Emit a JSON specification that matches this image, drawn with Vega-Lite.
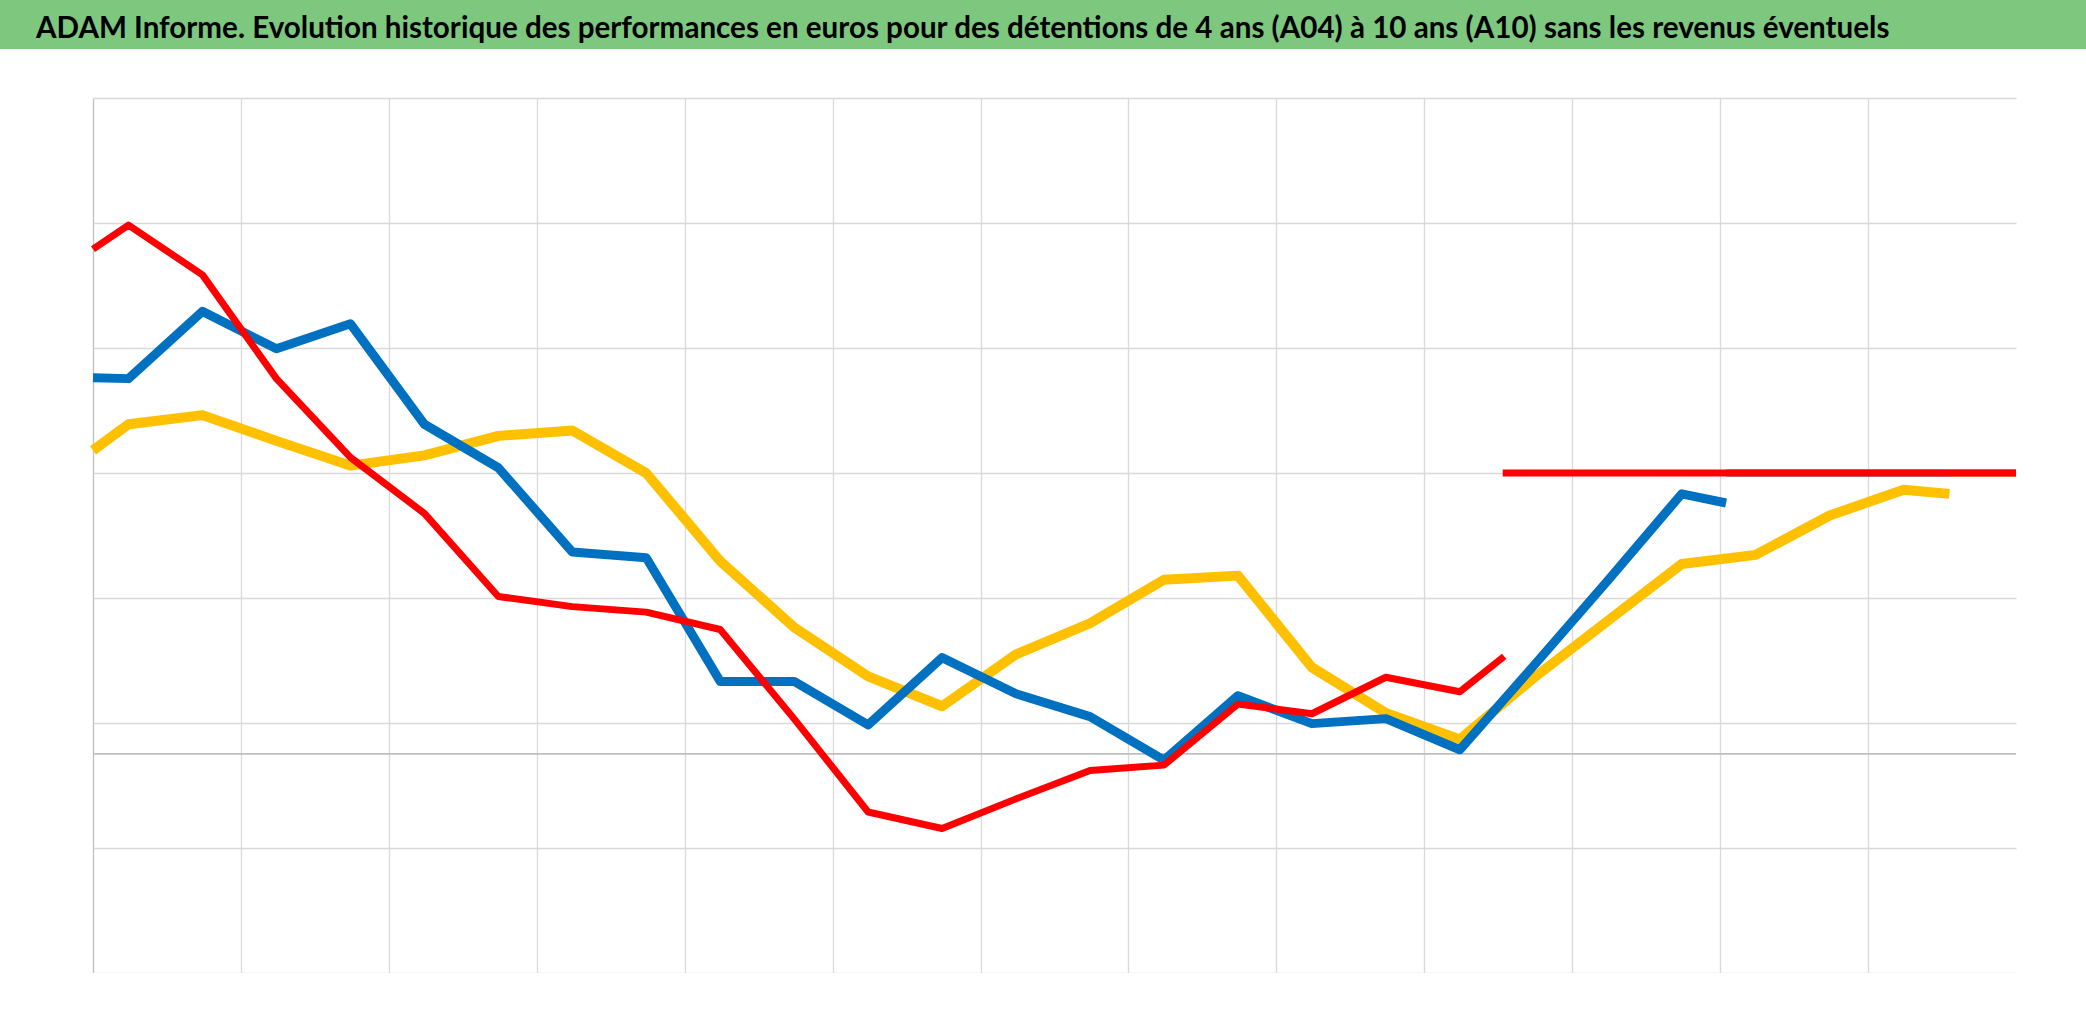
{
  "$schema": "https://vega.github.io/schema/vega-lite/v6.json",
  "padding": 0,
  "spacing": 49,
  "background": "white",
  "datasets": {
    "A10": [
      {"x": 0, "y": 5.791}, {"x": 0.24, "y": 5.983}, {"x": 0.74, "y": 5.585}, {"x": 1.24, "y": 4.755},
      {"x": 1.74, "y": 4.125}, {"x": 2.24, "y": 3.677}, {"x": 2.74, "y": 3.012}, {"x": 3.24, "y": 2.931},
      {"x": 3.74, "y": 2.887}, {"x": 4.24, "y": 2.748}, {"x": 4.74, "y": 2.033}, {"x": 5.24, "y": 1.288},
      {"x": 5.74, "y": 1.156}, {"x": 6.24, "y": 1.393}, {"x": 6.74, "y": 1.62}, {"x": 7.24, "y": 1.663},
      {"x": 7.74, "y": 2.151}, {"x": 8.24, "y": 2.074}, {"x": 8.74, "y": 2.366}, {"x": 9.24, "y": 2.25},
      {"x": 9.54, "y": 2.533}
    ],
    "A07": [
      {"x": 0, "y": 4.762}, {"x": 0.24, "y": 4.755}, {"x": 0.74, "y": 5.293}, {"x": 1.24, "y": 4.994},
      {"x": 1.74, "y": 5.194}, {"x": 2.24, "y": 4.39}, {"x": 2.74, "y": 4.042}, {"x": 3.24, "y": 3.368},
      {"x": 3.74, "y": 3.322}, {"x": 4.24, "y": 2.333}, {"x": 4.74, "y": 2.333}, {"x": 5.24, "y": 1.985},
      {"x": 5.74, "y": 2.523}, {"x": 6.24, "y": 2.234}, {"x": 6.74, "y": 2.051}, {"x": 7.24, "y": 1.703},
      {"x": 7.74, "y": 2.218}, {"x": 8.24, "y": 1.995}, {"x": 8.74, "y": 2.035}, {"x": 9.24, "y": 1.786},
      {"x": 9.74, "y": 2.459}, {"x": 10.24, "y": 3.139}, {"x": 10.74, "y": 3.833}, {"x": 11.04, "y": 3.76}
    ],
    "A04": [
      {"x": 0, "y": 4.181}, {"x": 0.24, "y": 4.39}, {"x": 0.74, "y": 4.463}, {"x": 1.24, "y": 4.257},
      {"x": 1.74, "y": 4.059}, {"x": 2.24, "y": 4.141}, {"x": 2.74, "y": 4.297}, {"x": 3.24, "y": 4.34},
      {"x": 3.74, "y": 3.999}, {"x": 4.24, "y": 3.295}, {"x": 4.74, "y": 2.765}, {"x": 5.24, "y": 2.373},
      {"x": 5.74, "y": 2.134}, {"x": 6.24, "y": 2.549}, {"x": 6.74, "y": 2.798}, {"x": 7.24, "y": 3.146},
      {"x": 7.74, "y": 3.179}, {"x": 8.24, "y": 2.445}, {"x": 8.74, "y": 2.08}, {"x": 9.24, "y": 1.869},
      {"x": 9.74, "y": 2.361}, {"x": 10.24, "y": 2.817}, {"x": 10.74, "y": 3.272}, {"x": 11.24, "y": 3.345},
      {"x": 11.74, "y": 3.66}, {"x": 12.24, "y": 3.866}, {"x": 12.55, "y": 3.833}
    ],
    "refA10": [{"x": 9.53, "y": 4}, {"x": 13, "y": 4}],
    "refA07": [{"x": 11.04, "y": 4}, {"x": 13, "y": 4}],
    "refA04": [{"x": 12.55, "y": 4}, {"x": 13, "y": 4}],
    "zero": [{"y": 1.753}],
    "titre": [{"t": "ADAM Informe. Evolution historique des performances en euros pour des détentions de 4 ans (A04) à 10 ans (A10) sans les revenus éventuels"}]
  },
  "vconcat": [
    {
      "width": 2086,
      "height": 49,
      "layer": [
        {
          "data": {"values": [{"band": 1}]},
          "mark": {"type": "rect", "color": "#7dc87e"},
          "encoding": {}
        },
        {
          "data": {"name": "titre"},
          "mark": {
            "type": "text",
            "align": "left",
            "baseline": "alphabetic",
            "dx": -1007,
            "dy": 13,
            "font": "Lato",
            "fontWeight": "bold",
            "fontSize": 29.6,
            "color": "#000000"
          },
          "encoding": {"text": {"field": "t", "type": "nominal"}}
        }
      ]
    },
    {
      "spacing": 0,
      "hconcat": [
        {
          "width": 88,
          "height": 875,
          "data": {"values": []},
          "mark": "rect",
          "encoding": {}
        },
        {
          "width": 1923,
          "height": 875,
          "layer": [
            {
              "data": {"name": "zero"},
              "mark": {"type": "rule", "color": "#bfbfbf", "strokeWidth": 1.6},
              "encoding": {
                "y": {
                  "field": "y", "type": "quantitative",
                  "scale": {"domain": [0, 7], "nice": false, "zero": false},
                  "axis": {
                    "values": [0, 1, 2, 3, 4, 5, 6, 7],
                    "grid": true, "gridColor": "#d9d9d9", "gridWidth": 1.3,
                    "labels": false, "ticks": false, "domain": false, "title": null
                  }
                }
              }
            },
            {
              "data": {"name": "A04"},
              "mark": {"type": "line", "color": "#ffc000", "strokeWidth": 10, "strokeJoin": "round"},
              "encoding": {
                "x": {
                  "field": "x", "type": "quantitative",
                  "scale": {"domain": [0, 13], "nice": false, "zero": false},
                  "axis": {
                    "values": [0, 1, 2, 3, 4, 5, 6, 7, 8, 9, 10, 11, 12],
                    "grid": true,
                    "gridColor": {"condition": {"test": "datum.value === 0", "value": "#bfbfbf"}, "value": "#d9d9d9"},
                    "gridWidth": 1.3,
                    "labels": false, "ticks": false, "domain": false, "title": null
                  }
                },
                "y": {"field": "y", "type": "quantitative"}
              }
            },
            {
              "data": {"name": "A07"},
              "mark": {"type": "line", "color": "#0070c0", "strokeWidth": 9, "strokeJoin": "round"},
              "encoding": {
                "x": {"field": "x", "type": "quantitative"},
                "y": {"field": "y", "type": "quantitative"}
              }
            },
            {
              "data": {"name": "A10"},
              "mark": {"type": "line", "color": "#ff0000", "strokeWidth": 7, "strokeJoin": "round"},
              "encoding": {
                "x": {"field": "x", "type": "quantitative"},
                "y": {"field": "y", "type": "quantitative"}
              }
            },
            {
              "data": {"name": "refA07"},
              "mark": {"type": "line", "color": "#0070c0", "strokeWidth": 7},
              "encoding": {
                "x": {"field": "x", "type": "quantitative"},
                "y": {"field": "y", "type": "quantitative"}
              }
            },
            {
              "data": {"name": "refA04"},
              "mark": {"type": "line", "color": "#ffc000", "strokeWidth": 7},
              "encoding": {
                "x": {"field": "x", "type": "quantitative"},
                "y": {"field": "y", "type": "quantitative"}
              }
            },
            {
              "data": {"name": "refA10"},
              "mark": {"type": "line", "color": "#ff0000", "strokeWidth": 7},
              "encoding": {
                "x": {"field": "x", "type": "quantitative"},
                "y": {"field": "y", "type": "quantitative"}
              }
            }
          ]
        }
      ]
    }
  ],
  "config": {
    "view": {"stroke": null}
  }
}
